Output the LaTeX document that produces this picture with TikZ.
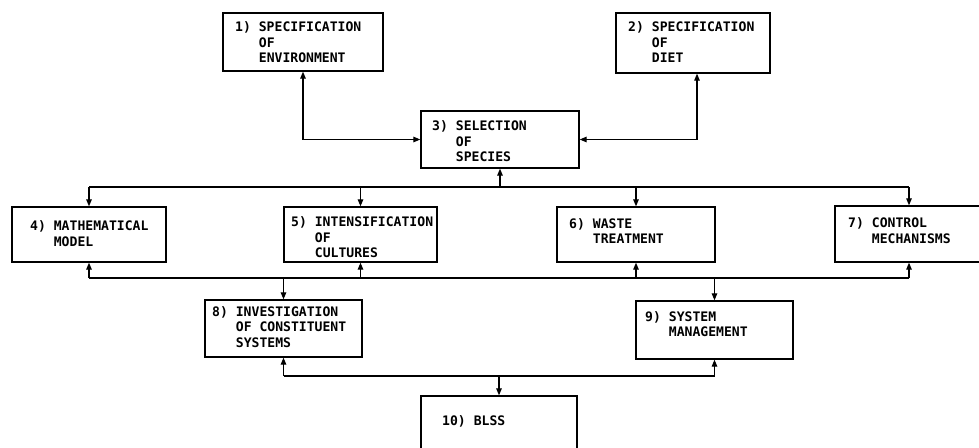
\documentclass[tikz,border=0pt]{standalone}
\usepackage{fontspec}
\setmonofont{DejaVu Sans Mono}
\usetikzlibrary{arrows.meta}
\tikzset{
  box/.style={draw, line width=1.3pt, rectangle, inner sep=0pt},
  txt/.style={anchor=base west, inner sep=0pt, align=left,
    font=\ttfamily\bfseries\fontsize{13.1}{15.5}\selectfont},
  con/.style={line width=1.2pt},
  arr/.style={con, -{Triangle[length=7pt,width=5.5pt]}},
  biarr/.style={con, {Triangle[length=7pt,width=5.5pt]}-{Triangle[length=7pt,width=5.5pt]}}
}
\newcommand\ind[1]{\phantom{#1}}
\begin{document}
\begin{tikzpicture}[x=1pt,y=-1pt]
\useasboundingbox (0,0) rectangle (979,447);
\clip (0,0) rectangle (979,447);
\fill[white] (0,0) rectangle (979,447);
% boxes
\node[box, minimum width=160pt, minimum height=58pt] (b1) at (303,42) {};
\node[box, minimum width=154pt, minimum height=60pt] (b2) at (693,43) {};
\node[box, minimum width=158pt, minimum height=57pt] (b3) at (500,139.5) {};
\node[box, minimum width=154pt, minimum height=55pt] (b4) at (89,234.5) {};
\node[box, minimum width=153pt, minimum height=55pt] (b5) at (360.5,234.5) {};
\node[box, minimum width=158pt, minimum height=55pt] (b6) at (636,234.5) {};
\node[box, minimum width=148pt, minimum height=56pt] (b7) at (909,234) {};
\node[box, minimum width=157pt, minimum height=57pt] (b8) at (283.5,328.5) {};
\node[box, minimum width=157pt, minimum height=58pt] (b9) at (714.5,330) {};
\node[box, minimum width=156pt, minimum height=60pt] (b10) at (499,426) {};
% texts (anchor = baseline of last line)
\node[txt] (t1) at (235,62.8) {1) SPECIFICATION\\\ind{1) }OF\\\ind{1) }ENVIRONMENT};
\node[txt] (t2) at (628,62.8) {2) SPECIFICATION\\\ind{2) }OF\\\ind{2) }DIET};
\node[txt] (t3) at (432,161.8) {3) SELECTION\\\ind{3) }OF\\\ind{3) }SPECIES};
\node[txt] (t4) at (30,246.3) {4) MATHEMATICAL\\\ind{4) }MODEL};
\node[txt] (t5) at (291,257.8) {5) INTENSIFICATION\\\ind{5) }OF\\\ind{5) }CULTURES};
\node[txt] (t6) at (569,243.8) {6) WASTE\\\ind{6) }TREATMENT};
\node[txt] (t7) at (848,243.3) {7) CONTROL\\\ind{7) }MECHANISMS};
\node[txt] (t8) at (212,347.3) {8) INVESTIGATION\\\ind{8) }OF CONSTITUENT\\\ind{8) }SYSTEMS};
\node[txt] (t9) at (645,336.8) {9) SYSTEM\\\ind{9) }MANAGEMENT};
\node[txt] (t10) at (442,425.8) {10) BLSS};
% top connectors
\draw[biarr] (b1.south) |- (b3.west);
\draw[biarr] ([xshift=4pt]b2.south) |- (b3.east);
% upper bus
\coordinate (u) at (0,187);
\draw[con] (b4.north |- u) -- (b7.north |- u);
\draw[arr] (b3.south |- u) -- (b3.south);
\draw[arr] (b4.north |- u) -- (b4.north);
\draw[arr] (b5.north |- u) -- (b5.north);
\draw[arr] (b6.north |- u) -- (b6.north);
\draw[arr] (b7.north |- u) -- (b7.north);
% lower bus
\coordinate (m) at (0,278);
\draw[con] (b4.south |- m) -- (b7.south |- m);
\draw[arr] (b4.south |- m) -- (b4.south);
\draw[arr] (b5.south |- m) -- (b5.south);
\draw[arr] (b6.south |- m) -- (b6.south);
\draw[arr] (b7.south |- m) -- (b7.south);
\draw[arr] (b8.north |- m) -- (b8.north);
\draw[arr] (b9.north |- m) -- (b9.north);
% bottom bus
\coordinate (l) at (0,376);
\draw[con] (b8.south |- l) -- (b9.south |- l);
\draw[arr] (b8.south |- l) -- (b8.south);
\draw[arr] (b9.south |- l) -- (b9.south);
\draw[arr] (b10.north |- l) -- (b10.north);
\end{tikzpicture}
\end{document}
